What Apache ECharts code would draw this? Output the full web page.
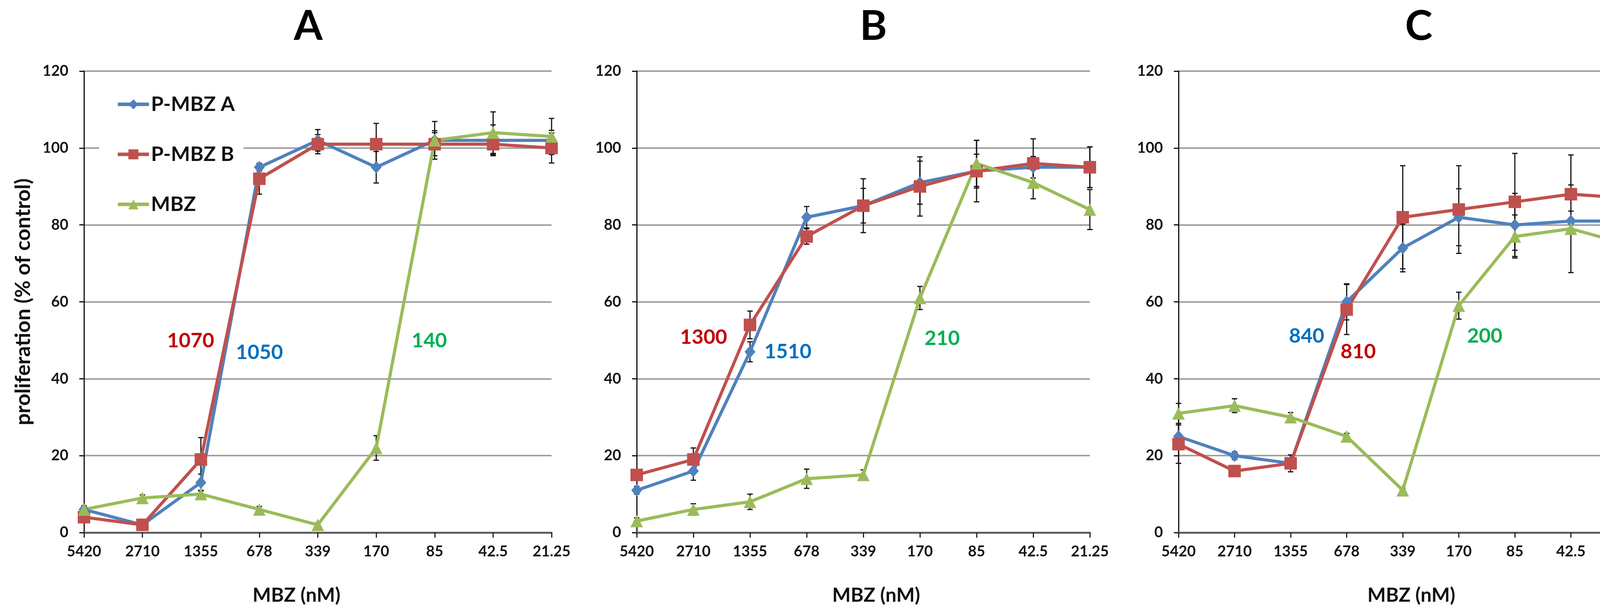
<!DOCTYPE html>
<html>
<head>
<meta charset="utf-8">
<script src="https://cdn.jsdelivr.net/npm/echarts@6/dist/echarts.min.js"></script>
<style>html,body{margin:0;padding:0;background:#fff;overflow:hidden}#c{width:4236px;height:1574px}</style>
</head>
<body>
<div id="c"></div>
<script>
// ---- data ----
const categories = ['5420','2710','1355','678','339','170','85','42.5','21.25'];
const seriesNames = ['P-MBZ A','P-MBZ B','MBZ'];
const panelTitles = ['A','B','C'];
const yTicks = [0,20,40,60,80,100,120];

const pmbzA_A = [6, 2, 13, 95, 102, 95, 102, 102, 102];
const pmbzB_A = [4, 2, 19, 92, 101, 101, 101, 101, 100];
const mbz_A   = [6, 9, 10, 6, 2, 22, 102, 104, 103];
const pmbzA_A_err = [1, 0.5, 2.2, 1, 2.8, 4.1, 2.5, 4, 2.6];
const pmbzB_A_err = [1, 0.5, 5.7, 4, 2.5, 5.4, 3, 2.7, 3.9];
const mbz_A_err   = [0.8, 0.8, 1, 0.8, 0.5, 3.2, 4.9, 5.4, 4.7];

const pmbzA_B = [11, 16, 47, 82, 85, 91, 94, 95, 95];
const pmbzB_B = [15, 19, 54, 77, 85, 90, 94, 96, 95];
const mbz_B   = [3, 6, 8, 14, 15, 61, 96, 91, 84];
const pmbzA_B_err = [1, 2.4, 2.6, 2.8, 4.5, 5.6, 4.4, 2.8, 5.3];
const pmbzB_B_err = [1, 3, 3.6, 2, 7, 7.7, 8, 6.4, 5.3];
const mbz_B_err   = [0.8, 1.5, 2, 2.5, 1.3, 3, 6, 4.2, 5.2];

const pmbzA_C = [25, 20, 18, 60, 74, 82, 80, 81, 81];
const pmbzB_C = [23, 16, 18, 58, 82, 84, 86, 88, 87];
const mbz_C   = [31, 33, 30, 25, 11, 59, 77, 79, 75];
const pmbzA_C_err = [3, 1, 1, 4.7, 6.2, 7.4, 8.2, 2.6, 2.4];
const pmbzB_C_err = [5, 1, 2.2, 6.5, 13.4, 11.4, 12.6, 10.2, 7.5];
const mbz_C_err   = [2.6, 1.8, 1.2, 0.8, 0.5, 3.5, 5.6, 11.4, 7.5];

const ic50Labels = [
  ['1070','1050','140'],
  ['1300','1510','210'],
  ['840','810','200']
];

// ---- layout / style ----
const FONT = 'Lato, "Open Sans", sans-serif';
const colors = ['#4F81BD', '#C0504D', '#9BBB59'];
const symbols = ['diamond', 'rect', 'triangle'];
const symbolSizes = [[28, 32], 32, 32];
const grids = [
  {left: 215, top: 182, width: 1197, height: 1181},
  {left: 1630, top: 182, width: 1160, height: 1181},
  {left: 3017, top: 182, width: 1148, height: 1181}
];
const panelData = [
  [[pmbzA_A, pmbzA_A_err], [pmbzB_A, pmbzB_A_err], [mbz_A, mbz_A_err]],
  [[pmbzA_B, pmbzA_B_err], [pmbzB_B, pmbzB_B_err], [mbz_B, mbz_B_err]],
  [[pmbzA_C, pmbzA_C_err], [pmbzB_C, pmbzB_C_err], [mbz_C, mbz_C_err]]
];

const xAxes = grids.map((g, i) => ({
  type: 'category', gridIndex: i, data: categories, boundaryGap: false,
  axisLine: {lineStyle: {color: '#5e5e5e', width: 5}},
  axisTick: {show: true, length: 13, lineStyle: {color: '#222', width: 3}},
  axisLabel: {fontFamily: FONT, fontWeight: 'bold', fontSize: 38, color: '#141414', margin: 30, interval: 0},
  splitLine: {show: false}
}));
const yAxes = grids.map((g, i) => ({
  type: 'value', gridIndex: i, min: yTicks[0], max: yTicks[yTicks.length - 1], interval: 20,
  axisLine: {show: true, lineStyle: {color: '#111', width: 3}},
  axisTick: {show: true, length: 12, lineStyle: {color: '#111', width: 3}},
  axisLabel: {fontFamily: FONT, fontWeight: 'bold', fontSize: 38, color: '#141414', margin: 40},
  splitLine: {show: true, lineStyle: {color: '#a0a0a0', width: 4}},
  name: i === 0 ? 'proliferation (% of control)' : '',
  nameLocation: 'middle', nameGap: 128,
  nameTextStyle: {fontFamily: FONT, fontWeight: 'bold', fontSize: 54, color: '#111'}
}));

const series = [];
panelData.forEach((pd, gi) => {
  pd.forEach(([vals, errs], si) => {
    series.push({
      type: 'custom', name: seriesNames[si] + ' err ' + gi, xAxisIndex: gi, yAxisIndex: gi,
      z: 1, silent: true,
      data: vals.map((v, k) => [k, v - errs[k], v + errs[k]]),
      encode: {x: 0, y: [1, 2]},
      renderItem: (params, api) => {
        const lo = api.coord([api.value(0), api.value(1)]);
        const hi = api.coord([api.value(0), api.value(2)]);
        const w = 7;
        const st = {stroke: '#151515', lineWidth: 3};
        return {type: 'group', children: [
          {type: 'line', shape: {x1: lo[0], y1: lo[1], x2: hi[0], y2: hi[1]}, style: st},
          {type: 'line', shape: {x1: lo[0] - w, y1: lo[1], x2: lo[0] + w, y2: lo[1]}, style: st},
          {type: 'line', shape: {x1: hi[0] - w, y1: hi[1], x2: hi[0] + w, y2: hi[1]}, style: st}
        ]};
      }
    });
  });
  pd.forEach(([vals], si) => {
    series.push({
      type: 'line', name: seriesNames[si], xAxisIndex: gi, yAxisIndex: gi, z: 3,
      data: vals, symbol: symbols[si], symbolSize: symbolSizes[si],
      lineStyle: {color: colors[si], width: 8},
      itemStyle: {color: colors[si]},
      emphasis: {disabled: true}, animation: false
    });
  });
});

const titleX = [789, 2236, 3632];
const xNameX = [759, 2243, 3613];
const ic50Pos = [
  [[488, 872, 1], [664, 902, 0], [1099, 872, 2]],
  [[1801, 863, 1], [2017, 900, 0], [2412, 866, 2]],
  [[3345, 860, 0], [3477, 900, 1], [3801, 860, 2]]
];
const labelColors = ['#0070C0', '#C00000', '#00B050'];
const graphics = [];
function txt(text, x, y, size, color) {
  return {type: 'text', x: x, y: y, z: 100, silent: true,
    style: {text: text, fontFamily: FONT, fontWeight: 'bold', fontSize: size, fill: color,
      textAlign: 'center', textVerticalAlign: 'middle', align: 'center', verticalAlign: 'middle'}};
}
panelTitles.forEach((t, i) => {
  graphics.push(txt(t, titleX[i], 68, 106, '#000'));
  graphics.push(txt('MBZ (nM)', xNameX[i], 1524, 50, '#111'));
  ic50Pos[i].forEach((p, j) => graphics.push(txt(ic50Labels[i][j], p[0], p[1], 52, labelColors[p[2]])));
});

const chart = echarts.init(document.getElementById('c'));
chart.setOption({
  backgroundColor: '#fff',
  animation: false,
  grid: grids,
  xAxis: xAxes,
  yAxis: yAxes,
  legend: {
    data: seriesNames, orient: 'vertical', left: 254, top: 220,
    padding: [18, 22, 18, 43], backgroundColor: '#fff',
    itemWidth: 80, itemHeight: 32, itemGap: 70,
    lineStyle: {width: 9},
    textStyle: {fontFamily: FONT, fontWeight: 'bold', fontSize: 52, color: '#111', lineHeight: 58}
  },
  series: series,
  graphic: graphics
});
</script>
</body>
</html>
